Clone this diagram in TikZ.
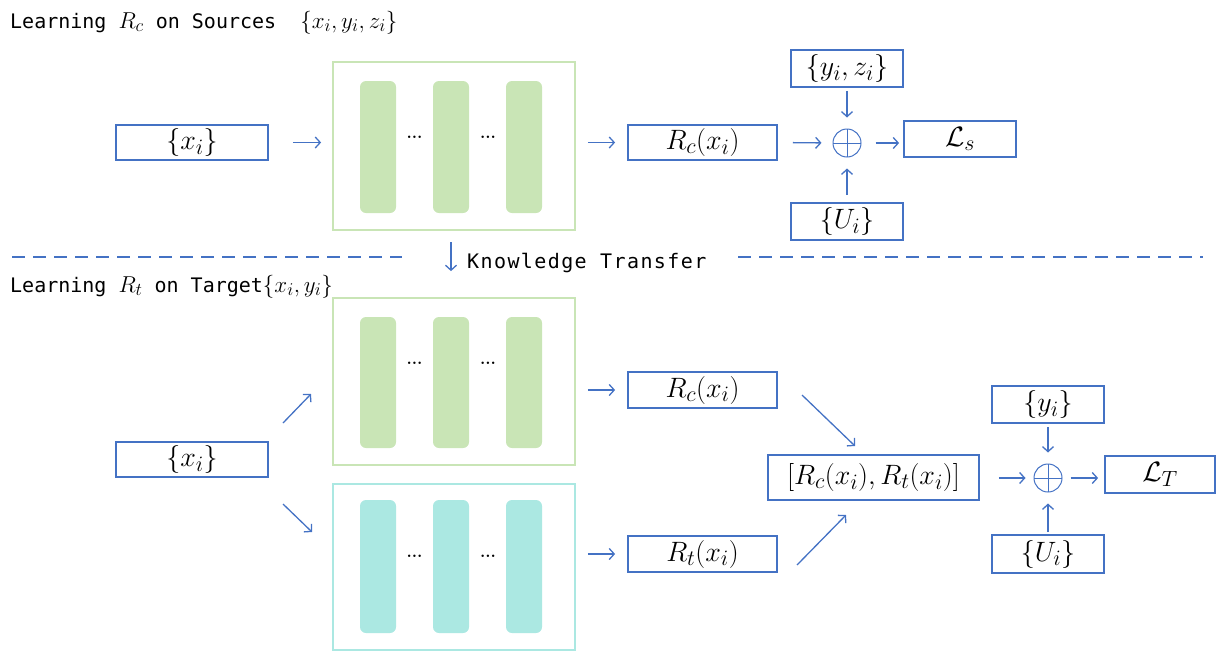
\RequirePackage{fix-cm}
\documentclass[tikz,border=0pt]{standalone}
\usepackage{fontspec}
\setmonofont{DejaVu Sans Mono}
\usetikzlibrary{arrows.meta}
\DeclareMathSizes{28}{28}{22}{17}
\DeclareMathSizes{23}{23}{18}{14}
\definecolor{lineblue}{HTML}{4472C4}
\definecolor{leafgreen}{HTML}{C9E5B6}
\definecolor{aqua}{HTML}{ABE8E2}
\newcommand\boxfont{\fontsize{28}{32}\selectfont}
\newcommand\headfont{\fontsize{20}{24}\selectfont\ttfamily}
\newcommand\headmath[1]{{\fontsize{23}{24}\selectfont$#1$}}
\tikzset{
  x=1pt, y=-1pt,
  box/.style={draw=lineblue, line width=1.8, inner sep=0, font=\boxfont},
  arr/.style={draw=lineblue, line width=1.3, -{Straight Barb[length=5,width=11]}},
  frame/.style={draw=#1, line width=1.8, inner sep=0},
  bar/.style={fill=#1, rounded corners=6},
  dots/.style={inner sep=0, font=\fontsize{17}{17}\selectfont\bfseries},
  sumnode/.style={circle, draw=lineblue, line width=1, minimum size=28, inner sep=0,
    path picture={
      \draw[lineblue, line width=1] (path picture bounding box.north) -- (path picture bounding box.south);
      \draw[lineblue, line width=1] (path picture bounding box.west) -- (path picture bounding box.east);
    }},
  head/.style={font=\headfont, anchor=base west, inner sep=0},
  sep/.style={draw=lineblue, line width=1.4, dash pattern=on 13 off 8},
}
\begin{document}
\begin{tikzpicture}
\useasboundingbox (0,0) rectangle (1216,651);

% ---------- headings ----------
\node[head] (h1) at (10,28) {Learning \headmath{R_c} on Sources~~\headmath{\{x_i,y_i,z_i\}}};
\node[head] (h2) at (10,292) {Learning \headmath{R_t} on Target\headmath{\{x_i,y_i\}}};

% ---------- source branch ----------
\node[box, minimum width=152, minimum height=35] (xa) at (192,142.5) {$\{x_i\}$};
\node[frame=leafgreen, minimum width=242, minimum height=168] (f1) at (454,146) {};
\foreach \bx in {360,433,506} \fill[bar=leafgreen] (\bx,81) rectangle ++(36,132);
\node[dots] (d1) at (414.5,137) {...};
\node[dots] (d2) at (488,137) {...};
\node[box, minimum width=149, minimum height=35] (rca) at (702.5,142.5) {$R_c(x_i)$};
\node[sumnode] (s1) at (847,143) {};
\node[box, minimum width=112, minimum height=37] (yz) at (847,68.5) {$\{y_i,z_i\}$};
\node[box, minimum width=112, minimum height=37] (ua) at (847,221.5) {$\{U_i\}$};
\node[box, minimum width=112, minimum height=36] (ls) at (960,139) {$\mathcal{L}_s$};

\draw[arr, shorten <=24, shorten >=11] (xa.east) -- (xa.east -| f1.west);
\draw[arr, shorten <=12, shorten >=12] (f1.east |- rca.west) -- (rca.west);
\draw[arr, shorten <=15, shorten >=11] (rca.east) -- (s1.west);
\draw[arr, shorten <=3, shorten >=11] (yz.south) -- (s1.north);
\draw[arr, shorten <=7, shorten >=11] (ua.north) -- (s1.south);
\draw[arr, shorten <=14, shorten >=4] (s1.east) -- (s1.east -| ls.west);

% ---------- separator ----------
\coordinate (sepA) at (12,257);
\coordinate (sepB) at (402,257);
\coordinate (sepC) at (738,257);
\coordinate (sepD) at (1203,257);
\draw[sep] (sepA) -- (sepB);
\draw[sep] (sepC) -- (sepD);
\node[head] (kt) at (467,268) {\addfontfeature{LetterSpace=7}Knowledge Transfer};

% ---------- target branch ----------
\node[frame=leafgreen, minimum width=242, minimum height=167] (f2) at (454,381.5) {};
\foreach \bx in {360,433,506} \fill[bar=leafgreen] (\bx,317) rectangle ++(36,131);
\node[dots] (d3) at (414.5,363) {...};
\node[dots] (d4) at (488,363) {...};
\node[frame=aqua, minimum width=242, minimum height=166] (f3) at (454,567) {};
\foreach \bx in {360,433,506} \fill[bar=aqua] (\bx,500) rectangle ++(36,133);
\node[dots] (d5) at (414.5,556) {...};
\node[dots] (d6) at (488,556) {...};

\coordinate (kt0) at (451,242);
\draw[arr, shorten >=26] (kt0) -- (kt0 |- f2.north);

\node[box, minimum width=152, minimum height=35] (xb) at (192,459.5) {$\{x_i\}$};
\node[box, minimum width=149, minimum height=36] (rcb) at (702.5,390) {$R_c(x_i)$};
\node[box, minimum width=149, minimum height=36] (rtb) at (702.5,554) {$R_t(x_i)$};
\node[box, minimum width=211, minimum height=45] (cat) at (873.5,477.5) {$[R_c(x_i),R_t(x_i)]$};
\node[sumnode] (s2) at (1048,478) {};
\node[box, minimum width=112, minimum height=37] (yb) at (1048,404.5) {$\{y_i\}$};
\node[box, minimum width=112, minimum height=38] (ub) at (1048,554) {$\{U_i\}$};
\node[box, minimum width=110, minimum height=37] (lt) at (1160,474.5) {$\mathcal{L}_T$};

\coordinate (xbUp) at (283,423);
\coordinate (f2In) at (311,394);
\coordinate (xbDn) at (283,504);
\coordinate (f3In) at (312,532);
\draw[arr] (xbUp) -- (f2In);
\draw[arr] (xbDn) -- (f3In);
\draw[arr, shorten <=12, shorten >=12] (f2.east |- rcb.west) -- (rcb.west);
\draw[arr, shorten <=12, shorten >=12] (f3.east |- rtb.west) -- (rtb.west);
\coordinate (rcOut) at (802,395);
\coordinate (catInA) at (855,446);
\coordinate (rtOut) at (797,565);
\coordinate (catInB) at (846,515);
\draw[arr] (rcOut) -- (catInA);
\draw[arr] (rtOut) -- (catInB);
\draw[arr, shorten <=19, shorten >=8] (cat.east |- s2.west) -- (s2.west);
\draw[arr, shorten <=3, shorten >=11] (yb.south) -- (s2.north);
\draw[arr, shorten <=2, shorten >=11] (ub.north) -- (s2.south);
\draw[arr, shorten <=8, shorten >=6] (s2.east) -- (s2.east -| lt.west);
\end{tikzpicture}
\end{document}
